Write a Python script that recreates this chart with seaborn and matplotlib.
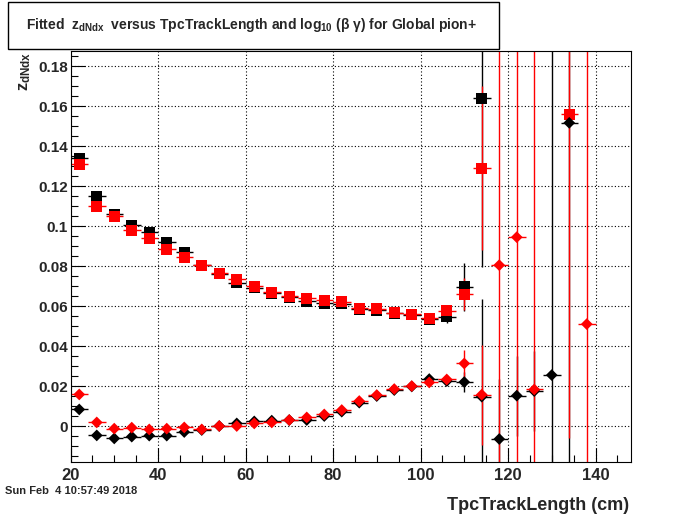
import numpy as np
import pandas as pd
import matplotlib
matplotlib.use("Agg")
import matplotlib.pyplot as plt
import seaborn as sns
from matplotlib.patches import Rectangle
from matplotlib.ticker import MultipleLocator, FuncFormatter

nan = np.nan

# TpcTrackLength bin centres (cm), bins are 4 cm wide
track_len = [22, 26, 30, 34, 38, 42, 46, 50, 54, 58, 62, 66, 70, 74, 78,
             82, 86, 90, 94, 98, 102, 106, 110, 114, 118, 122, 126, 130, 134, 138]
x_half = 2.0

# upper curve, squares
black_sq = [0.134, 0.115, 0.106, 0.1005, 0.097, 0.092, 0.087, 0.0805, 0.0762, 0.0718,
            0.0692, 0.0665, 0.0645, 0.0625, 0.0615, 0.0613, 0.0585, 0.058, 0.0565, 0.0558,
            0.0535, 0.0547, 0.0697, 0.164, nan, nan, nan, nan, nan, nan]
black_sq_err = [0.001] * 21 + [0.003, 0.012, 0.0845] + [nan] * 6

red_sq = [0.131, 0.110, 0.105, 0.098, 0.094, 0.0885, 0.0845, 0.0805, 0.0765, 0.0735,
          0.070, 0.067, 0.065, 0.064, 0.063, 0.0623, 0.059, 0.0587, 0.0568, 0.056,
          0.054, 0.0577, 0.066, 0.129, nan, nan, nan, nan, 0.156, nan]
red_sq_err = [0.001] * 21 + [0.003, 0.008, 0.041, nan, nan, nan, nan, 0.162, nan]

# lower curve, diamonds
black_dm = [0.0083, -0.0047, -0.0062, -0.0053, -0.0048, -0.0048, -0.003, -0.002, 0.0, 0.0013,
            0.0023, 0.0027, 0.003, 0.003, 0.005, 0.0072, 0.0117, 0.015, 0.018, 0.0198,
            0.0235, 0.0225, 0.022, 0.0147, -0.0065, 0.0152, 0.0175, 0.0255, 0.1517, nan]
black_dm_err = [0.001] * 21 + [0.002, 0.005, 0.049, 0.03, 0.02, 0.02, 0.2, 0.2, nan]

red_dm = [0.0158, 0.0018, -0.0013, -0.0008, -0.0017, -0.0013, -0.0007, -0.0017, 0.0, 0.0,
          0.0013, 0.0018, 0.003, 0.0043, 0.0058, 0.008, 0.0125, 0.0155, 0.0185, 0.020,
          0.0218, 0.0233, 0.0313, 0.0157, 0.0805, 0.0945, 0.0183, nan, nan, 0.051]
red_dm_err = [0.001] * 21 + [0.002, 0.0067, 0.025, 0.15, 0.13, 0.2, nan, nan, 0.15]

sns.set_theme(style="ticks")
plt.rcParams["font.family"] = ["Liberation Sans", "DejaVu Sans"]
plt.rcParams["font.weight"] = "bold"
plt.rcParams["mathtext.fontset"] = "custom"
plt.rcParams["mathtext.rm"] = "Liberation Sans:bold"
plt.rcParams["mathtext.it"] = "Liberation Sans:bold"
plt.rcParams["mathtext.bf"] = "Liberation Sans:bold"

fig = plt.figure(figsize=(7.0, 5.14), dpi=100)
ax = fig.add_axes([70.5 / 700, 51.7 / 514, 560 / 700, 411 / 514])

series = {
    "black_sq": (black_sq, black_sq_err, "black", "s", 64),
    "red_sq": (red_sq, red_sq_err, "red", "s", 64),
    "black_dm": (black_dm, black_dm_err, "black", "D", 36),
    "red_dm": (red_dm, red_dm_err, "red", "D", 36),
}

# error bars: black first, red on top
for name in ["black_sq", "black_dm", "red_sq", "red_dm"]:
    vals, errs, col, mk, size = series[name]
    ax.errorbar(track_len, vals, yerr=errs, xerr=x_half, fmt="none",
                ecolor=col, elinewidth=1.0, capsize=0, zorder=2)

frames = [pd.DataFrame({"x": track_len, "y": v[0], "series": k}) for k, v in series.items()]
df = pd.concat(frames).dropna()

sns.scatterplot(data=df, x="x", y="y", hue="series", style="series", size="series",
                palette={k: v[2] for k, v in series.items()},
                markers={k: v[3] for k, v in series.items()},
                sizes={k: v[4] for k, v in series.items()},
                linewidth=0, legend=False, ax=ax, zorder=3)

ax.set_xlim(20, 148)
ax.set_ylim(-0.01815, 0.1875)
ax.xaxis.set_major_locator(MultipleLocator(20))
ax.xaxis.set_minor_locator(MultipleLocator(5))
ax.yaxis.set_major_locator(MultipleLocator(0.02))
ax.yaxis.set_minor_locator(MultipleLocator(0.005))
fmt = FuncFormatter(lambda v, p: "%g" % round(v, 4))
ax.xaxis.set_major_formatter(fmt)
ax.yaxis.set_major_formatter(fmt)
ax.tick_params(which="both", direction="in", top=False, right=False, color="black", width=0.8)
ax.tick_params(which="major", length=10)
ax.tick_params(which="minor", length=5)
ax.tick_params(axis="x", labelsize=12, pad=4)
ax.tick_params(axis="y", labelsize=11, pad=2)
ax.set_xlabel("")
ax.set_ylabel("")
ax.grid(True, which="major", color="black", linestyle=(0, (1, 2)), linewidth=0.8)
ax.set_axisbelow(True)
for sp in ax.spines.values():
    sp.set_color("black")
    sp.set_linewidth(0.8)

# title box
fig.patches.append(Rectangle((7.5 / 700, 1 - 48.5 / 514), 491 / 700, 46 / 514,
                             transform=fig.transFigure, facecolor="white",
                             edgecolor="black", linewidth=1.0))
fig.text(251 / 700, 1 - 29 / 514,
         r"Fitted  $z_{dNdx}$  versus TpcTrackLength and $log_{10}$ (β γ) for Global pion+",
         ha="center", va="baseline", fontsize=10, fontweight="bold")

fig.text(25 / 700, 1 - 52 / 514, r"$z_{dNdx}$", rotation=90, ha="center", va="top",
         fontsize=12)
fig.text(629 / 700, 1 - 510 / 514, "TpcTrackLength (cm)", ha="right", va="baseline",
         fontsize=13, fontweight="bold")
fig.text(5 / 700, 1 - 494 / 514, "Sun Feb  4 10:57:49 2018", ha="left", va="baseline",
         fontsize=8, fontweight="bold")

fig.savefig("out.png", dpi=100, facecolor="white")
